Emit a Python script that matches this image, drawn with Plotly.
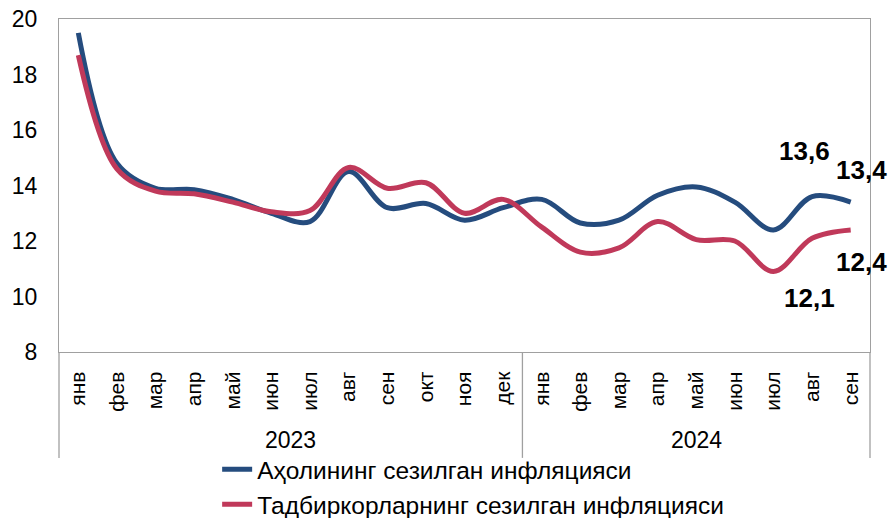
import plotly.graph_objects as go

months = ['янв', 'фев', 'мар', 'апр', 'май', 'июн', 'июл', 'авг', 'сен', 'окт', 'ноя', 'дек',
          'янв', 'фев', 'мар', 'апр', 'май', 'июн', 'июл', 'авг', 'сен']
years = ['2023', '2024']

# population / entrepreneurs perceived inflation, %
households = [19.5, 14.8, 13.9, 13.85, 13.5, 13.0, 12.7, 14.5, 13.2, 13.35, 12.75, 13.2,
              13.5, 12.65, 12.75, 13.65, 13.95, 13.4, 12.4, 13.6, 13.4]
business = [18.7, 14.6, 13.8, 13.7, 13.4, 13.05, 13.1, 14.65, 13.9, 14.1, 13.0, 13.5,
            12.5, 11.6, 11.75, 12.7, 12.05, 12.0, 10.9, 12.1, 12.4]

blue = '#254C7E'
red = '#C0395A'
x = list(range(len(months)))

fig = go.Figure()
fig.add_trace(go.Scatter(x=x, y=households, mode='lines', line_shape='spline',
                         line=dict(color=blue, width=5),
                         name='Аҳолининг сезилган инфляцияси'))
fig.add_trace(go.Scatter(x=x, y=business, mode='lines', line_shape='spline',
                         line=dict(color=red, width=5),
                         name='Тадбиркорларнинг сезилган инфляцияси'))

def lbl(v):
    return f'{v:.1f}'.replace('.', ',')

# data labels on last points
notes = [(19, households[19], -8, 46), (20, households[20], 11, 32),
         (20, business[20], 11, -32), (19, business[19], -3, -60)]
for xi, yi, dx, dy in notes:
    fig.add_annotation(x=xi, y=yi, text='<b>' + lbl(yi) + '</b>', showarrow=False,
                       xshift=dx, yshift=dy, font=dict(size=26, color='black'))

# year group labels and separators
fig.add_annotation(x=5.5, y=-0.264, yref='paper', yanchor='middle', text=years[0],
                   showarrow=False, font=dict(size=23, color='black'))
fig.add_annotation(x=16, y=-0.264, yref='paper', yanchor='middle', text=years[1],
                   showarrow=False, font=dict(size=23, color='black'))
for xs, ref in [(0, 'paper'), (11.5, 'x'), (1, 'paper')]:
    fig.add_shape(type='line', xref=ref, yref='paper', x0=xs, x1=xs, y0=0, y1=-0.318,
                  line=dict(color='#A0A0A0', width=1.3))

fig.update_xaxes(range=[-0.5, 20.5], tickvals=x, ticktext=months, tickangle=-90,
                 showgrid=False, zeroline=False, showline=True, linecolor='#A0A0A0',
                 linewidth=1.3, mirror=True, ticks='', ticklabelstandoff=10,
                 tickfont=dict(size=21, color='black'))
fig.update_yaxes(range=[8, 20], dtick=2, showgrid=False, zeroline=False, showline=True,
                 linecolor='#A0A0A0', linewidth=1.3, mirror=True, ticks='',
                 ticklabelstandoff=16, tickfont=dict(size=23, color='black'))

fig.update_layout(
    width=894, height=518,
    margin={'l': 59, 'r': 24, 't': 19, 'b': 166, 'autoexpand': False},
    plot_bgcolor='white', paper_bgcolor='white',
    font=dict(family='Liberation Sans, Arial, sans-serif', color='black'),
    showlegend=True,
    legend=dict(orientation='v', x=0.195, xanchor='left', y=-0.285, yanchor='top',
                font=dict(size=24.5), tracegroupgap=0, bgcolor='rgba(0,0,0,0)'),
)

fig.write_html('out.html', config={'displayModeBar': False},
               post_script="document.body.style.margin='0';document.body.style.overflow='hidden';")
